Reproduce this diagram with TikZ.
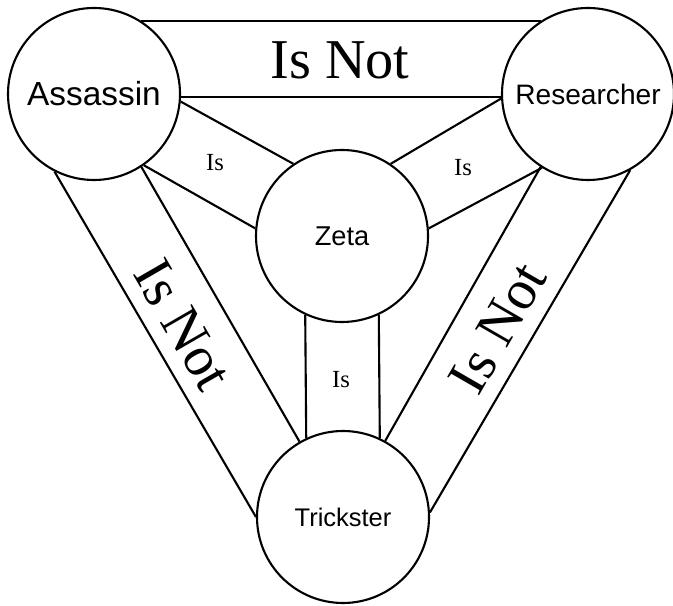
\documentclass[tikz,border=0pt]{standalone}
\usepackage{fontspec}
\setmainfont{Liberation Serif}
\setsansfont{Liberation Sans}
\begin{document}
\begin{tikzpicture}[
    role/.style={draw,circle,line width=1.2pt,minimum size=3.44cm,inner sep=0pt},
    band/.style={line width=1.2pt},
    isnot/.style={font=\fontsize{32}{32}\selectfont},
    islabel/.style={font=\fontsize{14}{14}\selectfont}]
    \useasboundingbox (0,0) rectangle (13.46,12.1);

    % Roles
    \node[role,font=\sffamily\fontsize{19}{19}\selectfont] (assassin) at (1.88,10.22) {Assassin};
    \node[role,font=\sffamily\fontsize{16}{16}\selectfont] (researcher) at (11.76,10.22) {Researcher};
    \node[role,font=\sffamily\fontsize{15.5}{15.5}\selectfont] (zeta) at (6.84,7.38) {Zeta};
    \node[role,font=\sffamily\fontsize{14.5}{14.5}\selectfont] (trickster) at (6.86,1.76) {Trickster};

    % Is Not bands
    \draw[band] (assassin.57) -- (researcher.123);
    \draw[band] (assassin.-2) -- (researcher.182);
    \draw[band] (assassin.-117) -- (trickster.180);
    \draw[band] (assassin.-57) -- (trickster.120);
    \draw[band] (researcher.-61) -- (trickster.3);
    \draw[band] (researcher.-123) -- (trickster.61);

    % Is bands
    \draw[band] (assassin.-5) -- (zeta.124);
    \draw[band] (assassin.-55) -- (zeta.175);
    \draw[band] (researcher.183) -- (zeta.56);
    \draw[band] (researcher.-122) -- (zeta.5);
    \draw[band] (zeta.-115) -- (trickster.115);
    \draw[band] (zeta.-65) -- (trickster.65);

    % Labels
    \node[isnot] (top) at (6.8,10.9) {Is Not};
    \node[isnot,rotate=-60] (left) at (3.66,5.6) {Is Not};
    \node[isnot,rotate=60] (right) at (9.96,5.54) {Is Not};
    \node[islabel] (az) at (4.3,8.84) {Is};
    \node[islabel] (rz) at (9.26,8.74) {Is};
    \node[islabel] (zt) at (6.82,4.5) {Is};
\end{tikzpicture}
\end{document}
